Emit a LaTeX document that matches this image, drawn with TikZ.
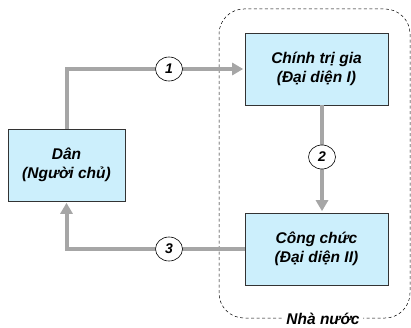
\documentclass[tikz,border=0pt]{standalone}
\usepackage{fontspec}
\setmainfont{Liberation Sans}
\usetikzlibrary{arrows.meta,shapes.geometric}

\tikzset{
    box/.style={draw=black!80, line width=0.6pt, fill=cyan!20, minimum height=72pt, inner sep=0pt, align=center, font=\fontsize{15.5}{19.5}\selectfont\bfseries\itshape},
    num/.style={draw=black, line width=0.6pt, fill=white, ellipse, minimum width=27pt, minimum height=24pt, inner sep=0pt, font=\fontsize{14}{16}\selectfont\bfseries\itshape},
    arr/.style={draw=black!35, line width=4pt, shorten >=1.5pt, -{Triangle[length=11pt,width=12pt]}}
}

\begin{document}
\begin{tikzpicture}[x=1pt, y=1pt]
    \useasboundingbox (0,0) rectangle (411,327);

    % vung nha nuoc
    \draw[black, line width=0.5pt, dash pattern=on 3pt off 2.5pt, rounded corners=25pt] (219,9) rectangle (410,318);
    \node[fill=white, inner sep=3pt, font=\fontsize{15.5}{17}\selectfont\bfseries\itshape] (nhanuoc) at (323,8) {Nhà nước};

    % cac hop
    \node[box, minimum width=117pt] (dan) at (66.5,162) {Dân\\(Người chủ)};
    \node[box, minimum width=143pt] (ctg) at (316.5,258) {Chính trị gia\\(Đại diện I)};
    \node[box, minimum width=143pt] (cc) at (316.5,78) {Công chức\\(Đại diện II)};

    % mui ten
    \draw[arr] (dan.north) |- (ctg.west);
    \draw[arr] ([xshift=5.5pt]ctg.south) -- ([xshift=5.5pt]cc.north);
    \draw[arr] (cc.west) -| (dan.south);

    % so thu tu
    \node[num] (n1) at (169,258) {1};
    \node[num] (n2) at (322,170) {2};
    \node[num] (n3) at (169,78) {3};
\end{tikzpicture}
\end{document}
